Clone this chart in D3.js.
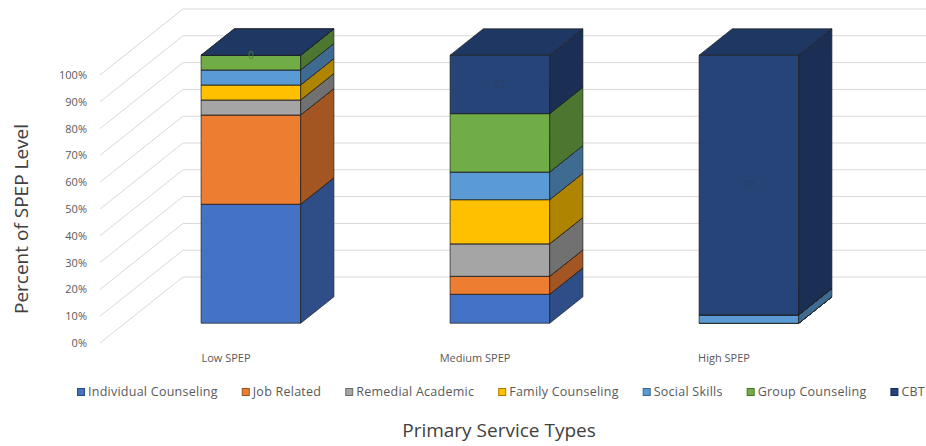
<!DOCTYPE html>
<html>
<head>
<meta charset="utf-8">
<script src="https://cdn.jsdelivr.net/npm/d3@7"></script>
<style>
  body { margin: 0; background: #fff; }
  svg { display: block; font-family: 'Open Sans', sans-serif; }
</style>
</head>
<body>
<div id="chart"></div>
<script>
const categories = ['Low SPEP', 'Medium SPEP', 'High SPEP']
const seriesNames = ['Individual Counseling', 'Job Related', 'Remedial Academic', 'Family Counseling', 'Social Skills', 'Group Counseling', 'CBT']

// share of each SPEP level
const individualCounseling = [0.444, 0.108, 0]
const jobRelated = [0.333, 0.067, 0]
const remedialAcademic = [0.056, 0.121, 0]
const familyCounseling = [0.056, 0.165, 0]
const socialSkills = [0.056, 0.103, 0.031]
const groupCounseling = [0.055, 0.218, 0]
const cbt = [0, 0.218, 0.969]

const yTicks = [0, 0.1, 0.2, 0.3, 0.4, 0.5, 0.6, 0.7, 0.8, 0.9, 1]
const seriesColors = ['#4472C4', '#ED7D31', '#A5A5A5', '#FFC000', '#5B9BD5', '#70AD47', '#264478']

const seriesValues = [individualCounseling, jobRelated, remedialAcademic, familyCounseling, socialSkills, groupCounseling, cbt]
const table = categories.map((c, i) => {
  const row = { category: c }
  seriesNames.forEach((s, j) => { row[s] = seriesValues[j][i] })
  return row
})

const w = 926
const h = 446

const svg = d3.select('#chart')
  .append('svg')
  .attr('width', w)
  .attr('height', h)

const yScale = d3.scaleLinear().domain([0, 1]).range([343, 75])
const xScale = d3.scaleBand()
  .domain(categories)
  .range([101.5, 848.5])
  .paddingInner(0.6)
  .paddingOuter(0.3)
// depth (z) goes into the picture: right and up
const depthX = d3.scaleLinear().domain([0, 1]).range([0, 83])
const depthY = d3.scaleLinear().domain([0, 1]).range([0, -66])

const pt = (x, v, z) => [x + depthX(z), yScale(v) + depthY(z)]
const line = d3.line()

// wall gridlines
const [wallL, wallR] = xScale.range()
svg.append('g')
  .selectAll('path')
  .data(yTicks)
  .enter()
  .append('path')
  .attr('d', d => line([pt(wallL - 1.5, d, 0), pt(wallL - 1.5, d, 1), pt(wallR + 20, d, 1)]))
  .attr('fill', 'none')
  .attr('stroke', '#d9d9d9')
  .attr('stroke-width', 1)

// y axis labels
const yAxis = d3.axisLeft(yScale)
  .tickValues(yTicks)
  .tickFormat(d3.format('.0%'))
  .tickSize(0)
  .tickPadding(3)

const yg = svg.append('g')
  .attr('transform', 'translate(90, 0)')
  .call(yAxis)
yg.select('.domain').remove()
yg.selectAll('text')
  .attr('fill', '#595959')
  .style('font-size', '11px')
  .style('font-family', "'Open Sans', sans-serif")

// category labels on the floor edge
const xAxis = d3.axisBottom(xScale).tickSize(0).tickPadding(0)
const xg = svg.append('g')
  .attr('transform', `translate(0, ${yScale(0) + 11})`)
  .call(xAxis)
xg.select('.domain').remove()
xg.selectAll('text')
  .attr('fill', '#595959')
  .style('font-size', '11px')
  .style('font-family', "'Open Sans', sans-serif")

// stacked 3d columns
const stack = d3.stack().keys(seriesNames)(table)
const zF = 0.3
const zB = 0.7
const bw = xScale.bandwidth()

const bars = svg.append('g')
categories.forEach((cat, ci) => {
  const x0 = xScale(cat)
  const x1 = x0 + bw
  stack.forEach((layer, si) => {
    const lo = layer[ci][0]
    const hi = layer[ci][1]
    const base = d3.color(seriesColors[si])
    const faces = [
      { pts: [pt(x0, lo, zF), pt(x1, lo, zF), pt(x1, hi, zF), pt(x0, hi, zF)], fill: base.formatHex() },
      { pts: [pt(x1, lo, zF), pt(x1, lo, zB), pt(x1, hi, zB), pt(x1, hi, zF)], fill: base.darker(1.05).formatHex() },
      { pts: [pt(x0, hi, zF), pt(x1, hi, zF), pt(x1, hi, zB), pt(x0, hi, zB)], fill: base.darker(0.55).formatHex() }
    ]
    bars.selectAll(null)
      .data(faces)
      .enter()
      .append('path')
      .attr('d', d => line(d.pts) + 'Z')
      .attr('fill', d => d.fill)
      .attr('stroke', '#1c1c1c')
      .attr('stroke-width', 0.7)
      .attr('stroke-linejoin', 'round')
  })
})

// faint data labels of the top series
const topLayer = stack[stack.length - 1]
svg.append('g')
  .selectAll('text')
  .data(topLayer)
  .enter()
  .append('text')
  .attr('x', (d, i) => xScale(categories[i]) + bw / 2 + depthX(zF))
  .attr('y', d => (yScale(d[0]) + yScale(d[1])) / 2 + depthY(zF) + 4)
  .attr('text-anchor', 'middle')
  .attr('fill', (d, i) => i === 0 ? '#56793a' : '#2a3f63')
  .style('font-size', '10px')
  .text(d => Math.round((d[1] - d[0]) * 100))

// legend
const legend = svg.append('g')
let lx = 77
seriesNames.forEach((s, i) => {
  const item = legend.append('g').attr('transform', `translate(${lx}, 0)`)
  item.append('rect')
    .attr('x', 0.5)
    .attr('y', 388.5)
    .attr('width', 7)
    .attr('height', 7)
    .attr('fill', seriesColors[i])
    .attr('stroke', d3.color(seriesColors[i]).darker(1.2))
    .attr('stroke-width', 1)
  const t = item.append('text')
    .attr('x', 11)
    .attr('y', 396)
    .attr('fill', '#595959')
    .style('font-size', '12.5px')
    .style('letter-spacing', '0.25px')
    .text(s)
  lx += 11 + t.node().getComputedTextLength() + 24
})

// axis titles
svg.append('text')
  .attr('transform', `translate(28, ${(yScale(0) + yScale(1)) / 2 + 10}) rotate(-90)`)
  .attr('text-anchor', 'middle')
  .attr('fill', '#404040')
  .style('font-size', '19px')
  .text('Percent of SPEP Level')

svg.append('text')
  .attr('x', 499)
  .attr('y', 437)
  .attr('text-anchor', 'middle')
  .attr('fill', '#404040')
  .style('font-size', '19px')
  .text('Primary Service Types')
</script>
</body>
</html>
